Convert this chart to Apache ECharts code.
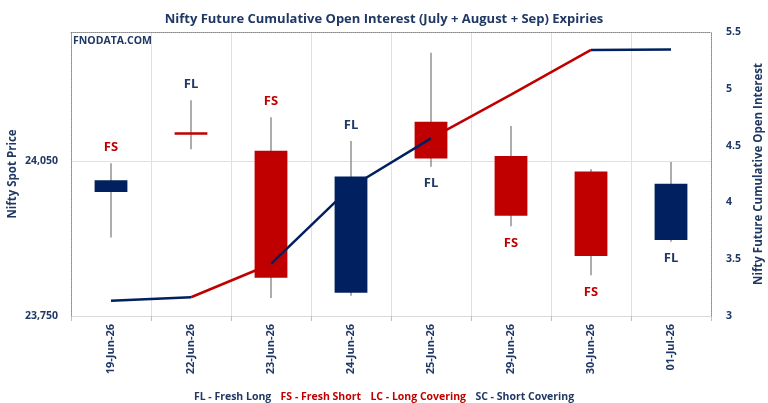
<!DOCTYPE html>
<html>
<head>
<meta charset="utf-8">
<script src="https://cdn.jsdelivr.net/npm/echarts@6/dist/echarts.min.js"></script>
<style>html,body{margin:0;padding:0;background:#fff}#c{width:768px;height:403px}</style>
</head>
<body>
<div id="c"></div>
<script>
const categories = ['19-Jun-26','22-Jun-26','23-Jun-26','24-Jun-26','25-Jun-26','29-Jun-26','30-Jun-26','01-Jul-26'];
const openPrice  = [23990, 24106, 24070, 23795, 24126, 24060, 24030, 23897];
const closePrice = [24013, 24101, 23824, 24020, 24055, 23944, 23866, 24006];
const lowPrice   = [23902, 24073, 23785, 23789, 24039, 23924, 23829, 23894];
const highPrice  = [24046, 24168, 24135, 24089, 24260, 24118, 24034, 24048];
const cumOI      = [3.135, 3.165, 3.458, 4.136, 4.564, 4.948, 5.342, 5.345];
// colour of the OI line segment ending at each point (first entry unused)
const oiSegment  = ['', 'blue', 'red', 'blue', 'blue', 'red', 'red', 'blue'];
const signal     = ['FS','FL','FS','FL','FL','FS','FS','FL'];
const signalSide = ['top','top','top','top','bottom','bottom','bottom','bottom'];
const leftTicks  = {min: 23750, max: 24300, interval: 300};
const rightTicks = {min: 3, max: 5.5, interval: 0.5};

const NAVY = '#002060', RED = '#c00000', TXT = '#1f3864';
const FONT = "'Open Sans',sans-serif";

// build line runs
const lineSeries = [];
let i = 1;
while (i < cumOI.length) {
  const col = oiSegment[i];
  let j = i;
  while (j + 1 < cumOI.length && oiSegment[j + 1] === col) j++;
  const data = cumOI.map((v, k) => (k >= i - 1 && k <= j) ? v : '-');
  lineSeries.push({
    type: 'line', yAxisIndex: 1, data: data, symbol: 'none', connectNulls: false,
    lineStyle: {color: col === 'red' ? RED : NAVY, width: 2.5},
    z: col === 'red' ? 1 : 3, silent: true
  });
  i = j + 1;
}

const candleData = categories.map((c, k) => [k, openPrice[k], closePrice[k], lowPrice[k], highPrice[k]]);

const chart = echarts.init(document.getElementById('c'));
chart.setOption({
  animation: false,
  textStyle: {fontFamily: FONT},
  title: [
    {text: 'Nifty Future Cumulative Open Interest (July + August + Sep) Expiries', left: 'center', top: 8,
     textStyle: {fontFamily: FONT, fontSize: 13, fontWeight: 'bold', color: TXT}},
    {text: 'FNODATA.COM', left: 68, top: 31, textStyle: {fontFamily: FONT, fontSize: 10.5, fontWeight: 'bold', color: TXT}},
    {text: '{b|FL - Fresh Long}  {r|FS - Fresh Short}  {r|LC - Long Covering}  {b|SC - Short Covering}',
     left: 'center', top: 383,
     textStyle: {rich: {
       b: {fontFamily: FONT, fontSize: 10.5, fontWeight: 'bold', color: TXT},
       r: {fontFamily: FONT, fontSize: 10.5, fontWeight: 'bold', color: RED}}}}
  ],
  grid: {left: 71, right: 57, top: 32, bottom: 87, containLabel: false, outerBoundsMode: 'none'},
  xAxis: [{
    type: 'category', data: categories, boundaryGap: true,
    axisLine: {show: true, lineStyle: {color: '#d9d9d9', width: 1}},
    axisTick: {show: true, length: 5, lineStyle: {color: '#bfbfbf'}},
    axisLabel: {rotate: 90, margin: 8, fontFamily: FONT, fontSize: 11, fontWeight: 'bold', color: TXT},
    splitLine: {show: true, lineStyle: {color: '#e0e0e0', width: 1}}
  }, {
    type: 'category', data: categories, position: 'top',
    axisLine: {show: true, lineStyle: {color: '#8c8c8c', type: 'dotted', width: 1}},
    axisTick: {show: false}, axisLabel: {show: false}, splitLine: {show: false}
  }],
  yAxis: [{
    type: 'value', min: leftTicks.min, max: leftTicks.max, interval: leftTicks.interval,
    name: 'Nifty Spot Price', nameLocation: 'middle', nameRotate: 90, nameGap: 52, nameMoveOverlap: false,
    nameTextStyle: {fontFamily: FONT, fontSize: 11.5, fontWeight: 'bold', color: TXT},
    axisLine: {show: true, lineStyle: {color: '#8c8c8c', type: 'dotted', width: 1}},
    axisTick: {show: false},
    axisLabel: {showMaxLabel: false, margin: 13, fontFamily: FONT, fontSize: 10.5, fontWeight: 'bold', color: TXT,
      formatter: v => v.toLocaleString('en-US')},
    splitLine: {show: true, lineStyle: {color: '#e0e0e0', width: 1}}
  }, {
    type: 'value', min: rightTicks.min, max: rightTicks.max, interval: rightTicks.interval, position: 'right',
    name: 'Nifty Future Cumulative Open Interest', nameLocation: 'middle', nameRotate: 90, nameGap: 42, nameMoveOverlap: false,
    nameTextStyle: {fontFamily: FONT, fontSize: 11.5, fontWeight: 'bold', color: TXT},
    axisLine: {show: true, lineStyle: {color: '#8c8c8c', type: 'dotted', width: 1}},
    axisTick: {show: false},
    axisLabel: {margin: 15, fontFamily: FONT, fontSize: 10.5, fontWeight: 'bold', color: TXT},
    splitLine: {show: false}
  }],
  series: lineSeries.concat([{
    type: 'custom', yAxisIndex: 0, z: 2, silent: true,
    data: candleData,
    encode: {x: 0, y: [1, 2, 3, 4]},
    renderItem: function (params, api) {
      const k = api.value(0);
      const o = api.value(1), c = api.value(2), lo = api.value(3), hi = api.value(4);
      const pO = api.coord([k, o]), pC = api.coord([k, c]);
      const pL = api.coord([k, lo]), pH = api.coord([k, hi]);
      const w = api.size([1, 0])[0] * 0.41;
      const x = pO[0];
      const up = c >= o;
      const top = Math.min(pO[1], pC[1]), bot = Math.max(pO[1], pC[1]);
      const sig = signal[k];
      const side = signalSide[k];
      return {
        type: 'group', children: [
          {type: 'line', shape: {x1: x, y1: pH[1], x2: x, y2: pL[1]}, style: {stroke: '#808080', lineWidth: 1.3}},
          {type: 'rect', shape: {x: x - w / 2, y: top, width: w, height: Math.max(bot - top, 1)},
           style: {fill: up ? NAVY : RED}},
          {type: 'text', x: x, y: side === 'top' ? pH[1] - 16 : pL[1] + 17,
           style: {text: sig, fill: sig === 'FS' ? RED : TXT, font: "bold 13px " + FONT,
             align: 'center', verticalAlign: 'middle'}}
        ]
      };
    }
  }])
});
</script>
</body>
</html>
